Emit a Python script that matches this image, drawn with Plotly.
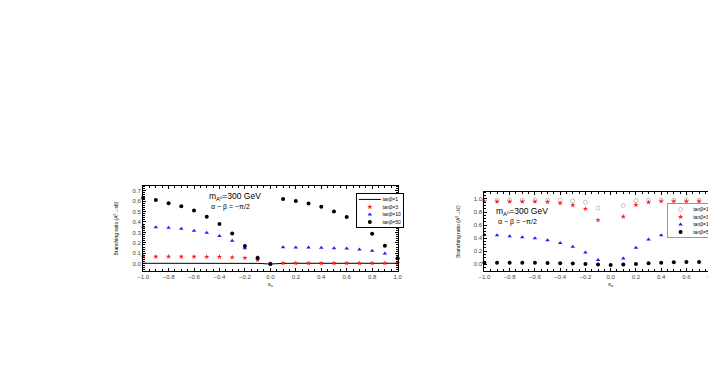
import plotly.graph_objects as go

# x grid (coupling parameter)
x_vals = [-1.0, -0.9, -0.8, -0.7, -0.6, -0.5, -0.4, -0.3, -0.2, -0.1, 0.0,
          0.1, 0.2, 0.3, 0.4, 0.5, 0.6, 0.7, 0.8, 0.9, 1.0]

# left panel (x_s)
left_tb1 = [0.004, 0.004, 0.004, 0.004, 0.004, 0.004, 0.004, 0.004, 0.004, 0.003, -0.003,
            0.003, 0.004, 0.004, 0.004, 0.004, 0.004, 0.004, 0.004, 0.004, 0.004]
left_tb3 = [0.068, 0.068, 0.068, 0.067, 0.067, 0.066, 0.065, 0.061, 0.055, 0.035, 0.0,
            0.005, 0.005, 0.005, 0.005, 0.005, 0.005, 0.005, 0.005, 0.005, 0.005]
left_tb10 = [0.355, 0.35, 0.345, 0.335, 0.316, 0.297, 0.265, 0.22, 0.148, 0.062, 0.0,
             0.158, 0.155, 0.155, 0.152, 0.148, 0.145, 0.135, 0.123, 0.097, 0.052]
left_tb50 = [0.63, 0.61, 0.58, 0.55, 0.51, 0.45, 0.38, 0.29, 0.17, 0.055, -0.003,
             0.62, 0.60, 0.577, 0.545, 0.50, 0.448, 0.377, 0.287, 0.171, 0.052]

# right panel (x_u)
right_tb1 = [0.985, 0.985, 0.985, 0.985, 0.985, 0.985, 0.98, 0.97, 0.95, 0.86, None,
             0.90, 0.975, 0.985, 0.985, 0.985, 0.985, 0.985, 0.985, 0.985, 0.985]
right_tb3 = [0.96, 0.96, 0.96, 0.96, 0.96, 0.955, 0.935, 0.905, 0.85, 0.675, None,
             0.73, 0.91, 0.95, 0.965, 0.965, 0.965, 0.965, 0.965, 0.965, 0.965]
right_tb10 = [0.45, 0.444, 0.43, 0.415, 0.40, 0.367, 0.327, 0.27, 0.18, 0.066, None,
              0.087, 0.255, 0.378, 0.444, 0.485, 0.50, 0.515, 0.52, 0.525, 0.53]
right_tb50 = [0.025, 0.025, 0.025, 0.023, 0.022, 0.02, 0.015, 0.01, 0.003, -0.005, -0.01,
              -0.005, 0.005, 0.015, 0.025, 0.03, 0.035, 0.035, 0.036, 0.036, 0.037]

# drawn at 3x then scaled down in the page, so small legend rows are possible
S = 3
W, H = 760, 382
FONT = "Liberation Sans"


def px(v):
    return v / W


def py(v):
    return 1 - v / H


def marker(symbol, color, size=4):
    return dict(symbol=symbol, size=size * S, color=color,
                line=dict(width=0.6 * S if symbol.endswith("open") else 0, color=color))


fig = go.Figure()

# left panel
fig.add_trace(go.Scatter(x=x_vals, y=left_tb1, mode="lines", name="tanβ=1",
                         line=dict(color="black", width=1 * S), xaxis="x", yaxis="y", legend="legend"))
fig.add_trace(go.Scatter(x=x_vals, y=left_tb3, mode="markers", name="tanβ=3",
                         marker=marker("star", "#ff2020"), xaxis="x", yaxis="y", legend="legend"))
fig.add_trace(go.Scatter(x=x_vals, y=left_tb10, mode="markers", name="tanβ=10",
                         marker=marker("triangle-up", "#1f1fff"), xaxis="x", yaxis="y", legend="legend"))
fig.add_trace(go.Scatter(x=x_vals, y=left_tb50, mode="markers", name="tanβ=50",
                         marker=marker("circle", "black"), xaxis="x", yaxis="y", legend="legend"))

# right panel
fig.add_trace(go.Scatter(x=x_vals, y=right_tb1, mode="markers", name="tanβ=1",
                         marker=marker("circle-open", "#a0a0a0"), xaxis="x2", yaxis="y2", legend="legend2"))
fig.add_trace(go.Scatter(x=x_vals, y=right_tb3, mode="markers", name="tanβ=3",
                         marker=marker("star", "#ff2020"), xaxis="x2", yaxis="y2", legend="legend2"))
fig.add_trace(go.Scatter(x=x_vals, y=right_tb10, mode="markers", name="tanβ=10",
                         marker=marker("triangle-up", "#1f1fff"), xaxis="x2", yaxis="y2", legend="legend2"))
fig.add_trace(go.Scatter(x=x_vals, y=right_tb50, mode="markers", name="tanβ=50",
                         marker=marker("circle", "black"), xaxis="x2", yaxis="y2", legend="legend2"))

fig.update_traces(cliponaxis=False)

axis_style = dict(showline=True, linecolor="black", linewidth=1 * S, mirror="allticks",
                  ticks="inside", ticklen=3 * S, tickwidth=1 * S, tickcolor="black",
                  showgrid=False, zeroline=False,
                  tickfont=dict(size=6 * S, color="#444444", family=FONT),
                  minor=dict(ticks="inside", ticklen=2 * S, tickwidth=1 * S, tickcolor="black"))

legend_style = dict(xanchor="left", yanchor="top", bgcolor="white", borderwidth=1 * S,
                    font=dict(size=15, color="black", family=FONT),
                    tracegroupgap=0, itemwidth=22 * S)

fig.update_layout(
    width=W * S, height=H * S,
    margin=dict(l=0, r=0, t=0, b=0),
    plot_bgcolor="white", paper_bgcolor="white",
    font=dict(family=FONT, size=6 * S, color="black"),
    xaxis=dict(domain=[px(139), px(397)], range=[-1.0, 1.0], dtick=0.2, tickformat=".1f",
               anchor="y", title=dict(text="x<sub>s</sub>", font=dict(size=6 * S), standoff=1 * S),
               **axis_style),
    yaxis=dict(domain=[py(271), py(186)], range=[-0.07, 0.745], dtick=0.1, tickformat=".1f",
               anchor="x", title=dict(text="Branching ratio (A<sup>0</sup>→sb̄)", font=dict(size=5 * S),
                                      standoff=13 * S),
               **axis_style),
    xaxis2=dict(domain=[px(485), px(741)], range=[-1.0, 1.0], dtick=0.2, tickformat=".1f",
                anchor="y2", title=dict(text="x<sub>u</sub>", font=dict(size=6 * S), standoff=1 * S),
                **axis_style),
    yaxis2=dict(domain=[py(271), py(192)], range=[-0.103, 1.107], dtick=0.2, tickformat=".1f",
                anchor="x2", title=dict(text="Branching ratio (A<sup>0</sup>→tc̄)", font=dict(size=5 * S),
                                        standoff=13 * S),
                **axis_style),
    legend=dict(x=px(355), y=py(193), bordercolor="black", **legend_style),
    legend2=dict(x=px(670), y=py(203), bordercolor="#999999", **legend_style),
    annotations=[
        dict(x=px(205), y=py(197), xref="paper", yref="paper", xanchor="left", yanchor="middle",
             text="m<sub>A<sup>0</sup></sub>=300 GeV", showarrow=False, font=dict(size=8.5 * S)),
        dict(x=px(207), y=py(206), xref="paper", yref="paper", xanchor="left", yanchor="middle",
             text="α − β = −π/2", showarrow=False, font=dict(size=7 * S)),
        dict(x=px(496), y=py(212), xref="paper", yref="paper", xanchor="left", yanchor="middle",
             text="m<sub>A<sup>0</sup></sub>=300 GeV", showarrow=False, font=dict(size=8.5 * S)),
        dict(x=px(498), y=py(221), xref="paper", yref="paper", xanchor="left", yanchor="middle",
             text="α − β = −π/2", showarrow=False, font=dict(size=7 * S)),
    ],
)

scale_js = (
    "document.body.style.margin='0';"
    "document.body.style.overflow='hidden';"
    "var gd=document.getElementById('{plot_id}');"
    "gd.style.transformOrigin='0 0';"
    "gd.style.transform='scale(" + str(1 / S) + ")';"
)

fig.write_html("out.html", config={"displayModeBar": False}, post_script=scale_js)
